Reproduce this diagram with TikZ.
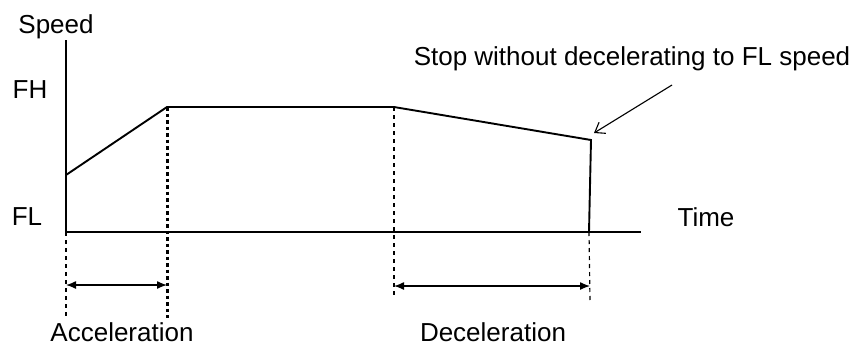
\documentclass[tikz,border=0pt]{standalone}
\usepackage{fontspec}
\setmainfont{Liberation Sans}
\usepackage{tikz}
\usetikzlibrary{arrows.meta,positioning,calc}
\tikzset{
  lbl/.style={anchor=base,inner sep=0pt,font=\fontsize{26}{31}\selectfont},
  axisline/.style={draw,line width=2.4pt},
  curveline/.style={draw,line width=1.9pt},
  guide/.style={draw,line width=1.2pt,dash pattern=on 4pt off 4pt},
  accguide/.style={draw,line width=3pt,dash pattern=on 3.5pt off 3pt},
  span/.style={draw,line width=1.3pt,{Latex[length=10pt,width=8pt]}-{Latex[length=10pt,width=8pt]}},
  callout/.style={draw,line width=1.1pt,-{Straight Barb[length=9pt,width=13pt]}},
}
\begin{document}
\begin{tikzpicture}[x=1pt,y=-1pt]
\useasboundingbox (0,0) rectangle (856,346);

\coordinate (o) at (66,232);
\coordinate (ytop) at (66,40);
\coordinate (xend) at (641,232);
\coordinate (s0) at (66,175);
\coordinate (fh0) at (167,107);
\coordinate (fh1) at (394,107);
\coordinate (stop) at (591,140);
\coordinate (stopfl) at (589,232);
\coordinate (a0) at (66,318);
\coordinate (a1) at (167,318);
\coordinate (d0) at (394,297);
\coordinate (d1) at (590,300);
\coordinate (tail) at (672,85);
\coordinate (tip) at (594,133);

\node[lbl] (speed) at (56,33) {Speed};
\node[lbl] (fh) at (30,98) {FH};
\node[lbl] (fl) at (27,225) {FL};
\node[lbl] (time) at (706,226) {Time};
\node[lbl] (acc) at (122,341) {Acceleration};
\node[lbl] (dec) at (493,341) {Deceleration};
\node[lbl] (note) at (632,65) {Stop without decelerating to FL speed};

\path[axisline] (ytop) -- (o) -- (xend);
\path[curveline] (s0) -- (fh0) -- (fh1) -- (stop) -- (stopfl);
\path[accguide] (fh0) -- (a1);
\path[guide] (o) -- (a0);
\path[guide] (fh1) -- (d0);
\path[guide] (stopfl) -- (d1);
\path[span] (a0 |- 0,285) -- (a1 |- 0,285);
\path[span] (d0 |- 0,286) -- (d1 |- 0,286);
\path[callout] (tail) -- (tip);

\end{tikzpicture}
\end{document}
